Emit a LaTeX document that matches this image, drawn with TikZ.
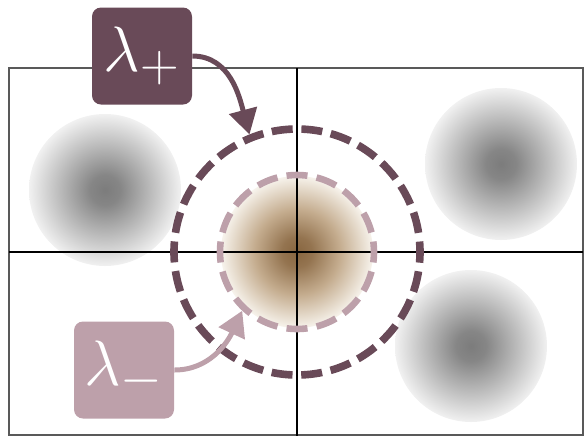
\documentclass[tikz,border=0pt]{standalone}
\usepackage{amsmath}
\usepackage{graphicx}
\usetikzlibrary{
  arrows.meta, % Triangle 箭头
  positioning  % 节点相对定位
}
\definecolor{plumdark}{RGB}{105,74,88}
\definecolor{plumlight}{RGB}{189,160,170}
\definecolor{blobgray}{RGB}{124,124,124}
\definecolor{blobinner}{RGB}{134,134,134}
\definecolor{blobmid}{RGB}{182,182,182}
\definecolor{blobedge}{RGB}{241,241,241}
\definecolor{browncore}{RGB}{136,102,64}
\definecolor{browninner}{RGB}{148,116,80}
\definecolor{brownmid}{RGB}{196,172,142}
\definecolor{brownedge}{RGB}{247,243,236}
% 斑点的径向渐变
\pgfdeclareradialshading{grayblob}{\pgfpoint{0bp}{0bp}}{color(0bp)=(blobgray); color(5bp)=(blobinner); color(14bp)=(blobmid); color(25bp)=(blobedge); color(50bp)=(blobedge)}
\pgfdeclareradialshading{brownblob}{\pgfpoint{0bp}{0bp}}{color(0bp)=(browncore); color(5bp)=(browninner); color(14bp)=(brownmid); color(25bp)=(brownedge); color(50bp)=(brownedge)}
\newcommand{\lamlabel}[1]{\scalebox{1.29}{$\lambda_{#1}$}}

\begin{document}
\begin{tikzpicture}[x=0.5pt, y=-0.5pt, >={Triangle[length=12.5pt, width=14pt]}]
    % 画面尺寸（像素坐标）
    \def\picW{585}
    \def\picH{436}
    \useasboundingbox (0,0) rectangle (\picW,\picH);
    \clip (0,0) rectangle (\picW,\picH);

    \tikzset{
      blob/.style={circle, inner sep=0pt, minimum size=76pt, shade, shading=grayblob},
      ring/.style={circle, inner sep=0pt, fill=none},
      lambox/.style={rounded corners=4.5pt, minimum width=50pt,
        minimum height=48.5pt, text=white, font=\Huge}
    }

    % --- 模糊斑点 ---
    \node[blob] (left) at (105,190) {};
    \node[blob] (topright) at (501,164) {};
    \node[blob] (botright) at (471,346) {};
    \node[blob, shading=brownblob] (core) at (297,252) {};

    % --- 边框与十字线 ---
    \draw[black!65, line width=1.3pt] (9,68) rectangle (583,435);
    \draw[black, line width=0.9pt] (297,68) -- (297,\picH);
    \draw[black, line width=0.9pt] (9,252) -- (583,252);

    % --- 虚线圆 ---
    \node[ring, draw=plumdark, line width=3.8pt, minimum size=123pt,
      dash pattern=on 10.5pt off 4.36pt, dash phase=5.25pt] (outer) at (297,252) {};
    \node[ring, draw=plumlight, line width=3.3pt, minimum size=77pt,
      dash pattern=on 10.5pt off 4.62pt, dash phase=5.25pt] (inner) at (297,252) {};

    % --- 标签方块 ---
    \node[lambox, fill=plumdark] (lplus) at (142,56) {\lamlabel{+}};
    \node[lambox, fill=plumlight] (lminus) at (124,370) {\lamlabel{-}};

    % --- 箭头 ---
    \draw[->, plumdark, line width=2.5pt] (lplus.east) to[out=0, in=105] (outer.112);
    \draw[->, plumlight, line width=2.5pt] (lminus.east) to[out=0, in=245] (inner.227);

  \end{tikzpicture}
\end{document}
